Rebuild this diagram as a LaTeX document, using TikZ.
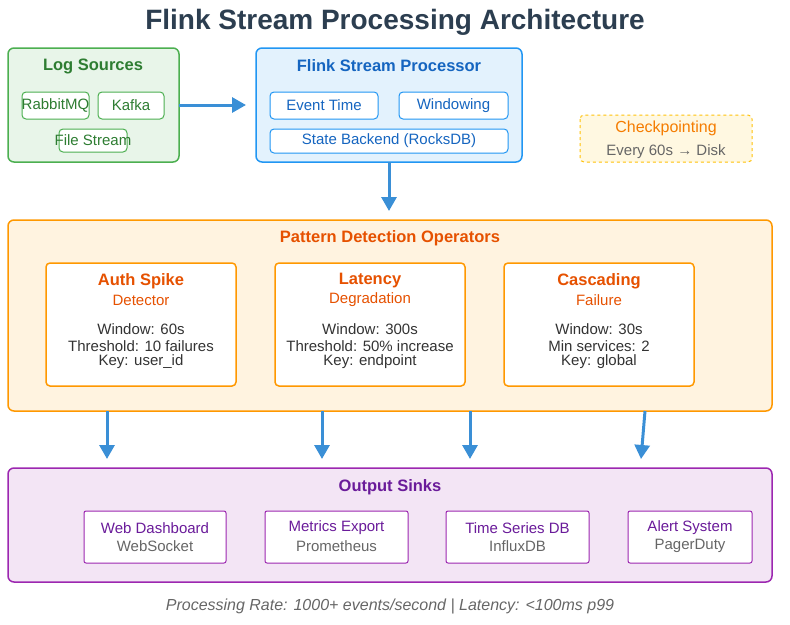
\documentclass[tikz,border=0pt]{standalone}
\usepackage{fontspec}
\setmainfont{Liberation Sans}
\usetikzlibrary{arrows.meta}
\definecolor{gB}{HTML}{4CAF50}\definecolor{gF}{HTML}{E8F5E9}\definecolor{gT}{HTML}{2E7D32}
\definecolor{bB}{HTML}{2196F3}\definecolor{bF}{HTML}{E3F2FD}\definecolor{bT}{HTML}{1565C0}
\definecolor{oB}{HTML}{FF9800}\definecolor{oF}{HTML}{FFF3E0}\definecolor{oT}{HTML}{E65100}
\definecolor{pB}{HTML}{9C27B0}\definecolor{pF}{HTML}{F3E5F5}\definecolor{pT}{HTML}{6A1B9A}
\definecolor{yB}{HTML}{FFC107}\definecolor{yF}{HTML}{FFF8E1}\definecolor{yT}{HTML}{F57C00}
\definecolor{txt}{HTML}{333333}\definecolor{gr}{HTML}{666666}\definecolor{arr}{HTML}{3A8FD6}
\definecolor{ttl}{HTML}{2C3E50}
\tikzset{
box/.style={draw=#1,line width=1.5pt,rounded corners=6pt},
ibox/.style={draw=#1,fill=white,line width=1pt,rounded corners=4pt},
lab/.style={font=\fontsize{15}{17}\selectfont,inner sep=0pt},
hd/.style={lab,font=\bfseries\fontsize{16.5}{19}\selectfont},
arw/.style={draw=arr,line width=3pt,-{Triangle[length=14pt,width=15pt]}},
}
\begin{document}
\begin{tikzpicture}[x=1pt,y=-1pt]
\useasboundingbox (0,0) rectangle (790,624);
\node[font=\bfseries\fontsize{28}{32}\selectfont,text=ttl] (title) at (395,22) {Flink Stream Processing Architecture};
% Log sources
\draw[box=gB,fill=gF] (8,48) rectangle (179,162);
\node[hd,text=gT] (ls) at (93,66) {Log Sources};
\draw[ibox=gB] (22,92) rectangle (89,119); \node[lab,text=gT] (rm) at (55.5,105.5) {RabbitMQ};
\draw[ibox=gB] (98,92) rectangle (164,119); \node[lab,text=gT] (kf) at (131,105.5) {Kafka};
\draw[ibox=gB] (59,129) rectangle (127,152); \node[lab,text=gT] (fs) at (93,140.5) {File Stream};
\coordinate (lsR) at (179,105); \coordinate (flL) at (246,105);
\draw[arw] (lsR) -- (flL);
% Flink
\draw[box=bB,fill=bF] (256,48) rectangle (522,162);
\node[hd,text=bT] (fl) at (389,66) {Flink Stream Processor};
\draw[ibox=bB] (270,92) rectangle (378,119); \node[lab,text=bT] (et) at (324,105.5) {Event Time};
\draw[ibox=bB] (399,92) rectangle (508,119); \node[lab,text=bT] (wd) at (453.5,105.5) {Windowing};
\draw[ibox=bB] (270,129) rectangle (508,153); \node[lab,text=bT] (sb) at (389,141) {State Backend (RocksDB)};
% Checkpointing
\draw[draw=yB,fill=yF,line width=1pt,dashed,rounded corners=4pt] (580,115) rectangle (752,162);
\node[lab,font=\fontsize{16}{18}\selectfont,text=yT] (cp) at (666,128) {Checkpointing};
\node[lab,text=gr] (cp2) at (666,152) {Every 60s → Disk};
\coordinate (flB) at (389,162); \coordinate (pdT) at (389,211);
\draw[arw] (flB) -- (pdT);
% Pattern detection
\draw[box=oB,fill=oF] (8,220) rectangle (772,411);
\node[hd,text=oT] (pd) at (390,238) {Pattern Detection Operators};
\foreach \x/\n/\a/\b/\c/\d/\e in {
 46/op1/Auth Spike/Detector/Window: 60s/Threshold: 10 failures/Key: user\_id,
 275/op2/Latency/Degradation/Window: 300s/Threshold: 50\% increase/Key: endpoint,
 504/op3/Cascading/Failure/Window: 30s/Min services: 2/Key: global}{
 \draw[ibox=oB,line width=1.5pt] (\x,263) rectangle (\x+190,386);
 \node[hd,text=oT] (\n t) at (\x+95,281) {\a};
 \node[lab,text=oT] (\n s) at (\x+95,300) {\b};
 \node[lab,text=txt] (\n a) at (\x+95,329) {\c};
 \node[lab,text=txt] (\n b) at (\x+95,346) {\d};
 \node[lab,text=txt] (\n c) at (\x+95,362) {\e};
}
\foreach \i/\x/\y in {1/107/107,2/322/322,3/470/470,4/645/641}{
 \coordinate (a\i) at (\x,411); \coordinate (b\i) at (\y,459);
 \draw[arw] (a\i) -- (b\i);
}
% Output sinks
\draw[box=pB,fill=pF] (8,468) rectangle (772,582);
\node[hd,text=pT] (os) at (390,487) {Output Sinks};
\foreach \l/\r/\n/\a/\b in {84/226/s1/Web Dashboard/WebSocket,265/408/s2/Metrics Export/Prometheus,446/589/s3/Time Series DB/InfluxDB,628/752/s4/Alert System/PagerDuty}{
 \draw[draw=pB,fill=white,line width=1pt,rounded corners=2pt] (\l,511) rectangle (\r,563);
 \node[lab,text=pT] (\n a) at ({(\l+\r)/2},528) {\a};
 \node[lab,text=gr] (\n b) at ({(\l+\r)/2},546) {\b};
}
\node[lab,font=\itshape\fontsize{16}{18}\selectfont,text=gr] (foot) at (390,606) {Processing Rate: 1000+ events/second | Latency: <100ms p99};
\end{tikzpicture}
\end{document}
